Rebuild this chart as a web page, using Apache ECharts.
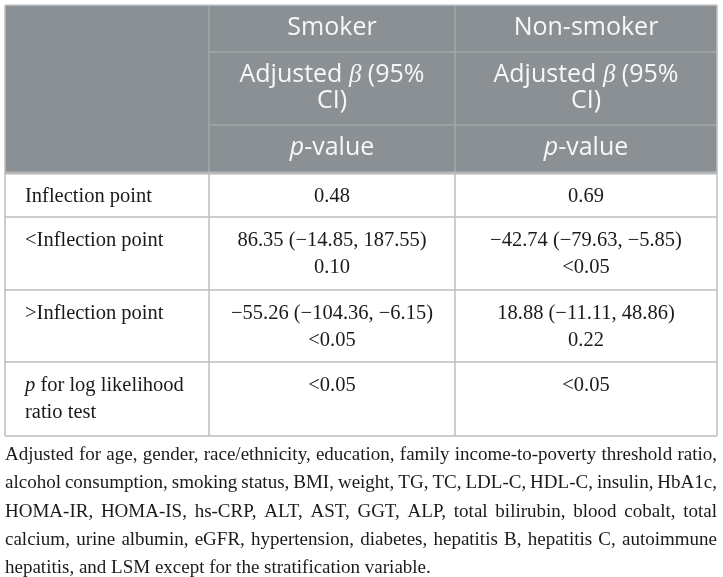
<!DOCTYPE html>
<html>
<head>
<meta charset="utf-8">
<script src="https://cdn.jsdelivr.net/npm/echarts@6/dist/echarts.min.js"></script>
<style>
  html, body { margin: 0; padding: 0; background: #fff; }
  #chart { width: 723px; height: 577px; }
</style>
</head>
<body>
<div id="chart"></div>
<script>
// table content
const groups = ['Smoker', 'Non-smoker'];
const headerEstimate = ['Adjusted {b|β} (95%', 'CI)'];
const headerP = '{i|p}-value';

const rowLabels = [
  ['Inflection point'],
  ['<Inflection point'],
  ['>Inflection point'],
  ['{i|p} for log likelihood', 'ratio test']
];
const smokerValues = [
  ['0.48'],
  ['86.35 (−14.85, 187.55)', '0.10'],
  ['−55.26 (−104.36, −6.15)', '<0.05'],
  ['<0.05']
];
const nonSmokerValues = [
  ['0.69'],
  ['−42.74 (−79.63, −5.85)', '<0.05'],
  ['18.88 (−11.11, 48.86)', '0.22'],
  ['<0.05']
];
const footnoteLines = [
  'Adjusted for age, gender, race/ethnicity, education, family income-to-poverty threshold ratio,',
  'alcohol consumption, smoking status, BMI, weight, TG, TC, LDL-C, HDL-C, insulin, HbA1c,',
  'HOMA-IR, HOMA-IS, hs-CRP, ALT, AST, GGT, ALP, total bilirubin, blood cobalt, total',
  'calcium, urine albumin, eGFR, hypertension, diabetes, hepatitis B, hepatitis C, autoimmune',
  'hepatitis, and LSM except for the stratification variable.'
];

// layout
const colX = [5, 209, 455, 717];
const headTops = [5, 52, 125, 173];
const bodyTops = [173, 217, 290, 362, 436];
const headBg = '#8b9094';
const lineColor = '#bcbcbc';
const sansFont = '"Open Sans", "Noto Sans", sans-serif';
const serifFont = '"Liberation Serif", "DejaVu Serif", serif';
const headSize = 25;
const bodySize = 20.5;
const noteSize = 19;

const els = [];

function line(x1, y1, x2, y2, color, w) {
  els.push({ type: 'line', shape: { x1, y1, x2, y2 }, style: { stroke: color, lineWidth: w }, z: 5 });
}

function text(str, x, y, opt) {
  els.push({
    type: 'text', x, y, z: 10,
    style: Object.assign({
      text: str, align: 'center', verticalAlign: 'middle'
    }, opt)
  });
}

// header background
els.push({
  type: 'rect',
  shape: { x: colX[0], y: headTops[0], width: colX[3] - colX[0], height: headTops[3] - headTops[0] },
  style: { fill: headBg }, z: 1
});

const headStyle = {
  fill: '#f7f7f7', fontFamily: sansFont, fontSize: headSize,
  rich: {
    b: { fill: '#f7f7f7', fontFamily: serifFont, fontStyle: 'italic', fontSize: headSize },
    i: { fill: '#f7f7f7', fontFamily: sansFont, fontStyle: 'italic', fontSize: headSize }
  }
};

groups.forEach((g, c) => {
  const cx = (colX[c + 1] + colX[c + 2]) / 2;
  text(g, cx, 28, headStyle);
  headerEstimate.forEach((t, k) => text(t, cx, 75 + k * 26, headStyle));
  text(headerP, cx, 148, headStyle);
});

// header inner lines
line(colX[1], headTops[0], colX[1], headTops[3], '#a2a7aa', 1.5);
line(colX[2], headTops[0], colX[2], headTops[3], '#a2a7aa', 1.5);
line(colX[1], headTops[1], colX[3], headTops[1], '#a2a7aa', 1.5);
line(colX[1], headTops[2], colX[3], headTops[2], '#a2a7aa', 1.5);

// body
const bodyStyle = {
  fill: '#1a1a1a', fontFamily: serifFont, fontSize: bodySize,
  rich: { i: { fill: '#1a1a1a', fontFamily: serifFont, fontStyle: 'italic', fontSize: bodySize } }
};
const cols = [smokerValues, nonSmokerValues];
rowLabels.forEach((lab, r) => {
  const top = bodyTops[r];
  lab.forEach((t, k) => text(t, 25, top + 24 + k * 27, Object.assign({}, bodyStyle, { align: 'left' })));
  cols.forEach((vals, c) => {
    const cx = (colX[c + 1] + colX[c + 2]) / 2;
    vals[r].forEach((t, k) => text(t, cx, top + 24 + k * 27, bodyStyle));
  });
  if (r > 0) line(colX[0], top, colX[3], top, lineColor, 1.5);
});

// body column lines and outer border
line(colX[1], bodyTops[0], colX[1], bodyTops[4], lineColor, 1.5);
line(colX[2], bodyTops[0], colX[2], bodyTops[4], lineColor, 1.5);
line(colX[0], headTops[0], colX[0], bodyTops[4], lineColor, 1.5);
line(colX[3], headTops[0], colX[3], bodyTops[4], lineColor, 1.5);
line(colX[0], headTops[0], colX[3], headTops[0], '#c8cbcc', 1.5);
line(colX[0], bodyTops[4], colX[3], bodyTops[4], lineColor, 1.5);
line(colX[0], headTops[3], colX[3], headTops[3], '#b8b8b8', 3);

// footnote, justified
const ctx = document.createElement('canvas').getContext('2d');
const noteFont = noteSize + 'px ' + serifFont;
ctx.font = noteFont;
const noteLeft = colX[0], noteRight = colX[3];
footnoteLines.forEach((ln, i) => {
  const y = 455 + i * 28.3;
  const words = ln.split(' ');
  const widths = words.map(w => ctx.measureText(w).width);
  const total = widths.reduce((a, b) => a + b, 0);
  const last = i === footnoteLines.length - 1;
  const gap = last ? ctx.measureText(' ').width : (noteRight - noteLeft - total) / (words.length - 1);
  let x = noteLeft;
  words.forEach((w, k) => {
    text(w, x, y, { fill: '#1a1a1a', fontFamily: serifFont, fontSize: noteSize, align: 'left' });
    x += widths[k] + gap;
  });
});

const chart = echarts.init(document.getElementById('chart'), null, { renderer: 'canvas' });
chart.setOption({
  backgroundColor: '#fff',
  animation: false,
  graphic: { elements: els }
});
window.addEventListener('resize', () => chart.resize());
</script>
</body>
</html>
